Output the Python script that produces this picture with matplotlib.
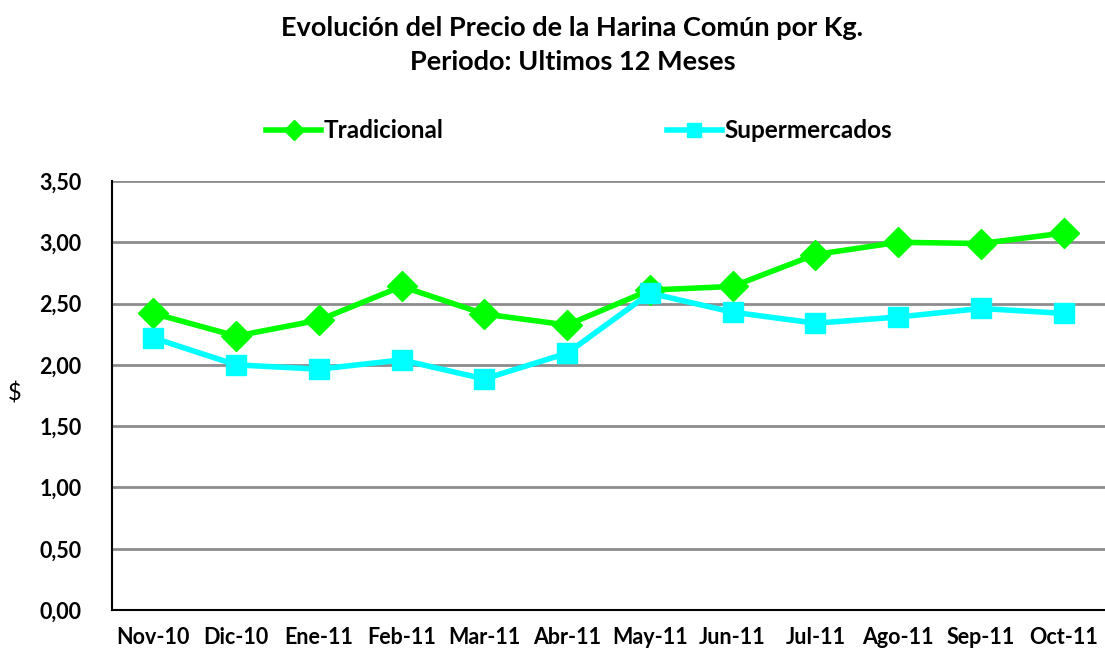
import numpy as np
import matplotlib
matplotlib.use("Agg")
import matplotlib.pyplot as plt

plt.rcParams['font.family'] = ['Lato', 'DejaVu Sans']
plt.rcParams['font.weight'] = 'bold'

months = ['Nov-10', 'Dic-10', 'Ene-11', 'Feb-11', 'Mar-11', 'Abr-11',
          'May-11', 'Jun-11', 'Jul-11', 'Ago-11', 'Sep-11', 'Oct-11']
tradicional = [2.42, 2.235, 2.365, 2.64, 2.415, 2.325, 2.61, 2.64, 2.90, 3.00, 2.99, 3.075]
supermercados = [2.22, 2.00, 1.965, 2.04, 1.885, 2.095, 2.585, 2.43, 2.34, 2.39, 2.46, 2.42]
yticks = [0.0, 0.5, 1.0, 1.5, 2.0, 2.5, 3.0, 3.5]

fig = plt.figure(figsize=(11.05, 6.55), dpi=100)
ax = fig.add_axes([112/1105, 45/655, (1105-112)/1105, (610-181)/655])

x = np.arange(len(months))
ax.plot(x, tradicional, color='#00ff00', lw=4, marker='D', ms=15,
        label='Tradicional', zorder=3)
ax.plot(x, supermercados, color='#00ffff', lw=4, marker='s', ms=15,
        label='Supermercados', zorder=3)

ax.set_xlim(-0.5, len(months) - 0.5)
ax.set_ylim(0, 3.5)
ax.set_yticks(yticks)
ax.set_yticklabels([('%.2f' % v).replace('.', ',') for v in yticks], fontsize=15.5)
ax.set_xticks(x)
ax.set_xticklabels(months, fontsize=15.5)
ax.tick_params(axis='both', length=0, pad=12)
ax.tick_params(axis='y', pad=22)
ax.yaxis.grid(True, color='#8c8c8c', lw=2)
ax.set_axisbelow(True)
for s in ['top', 'right']:
    ax.spines[s].set_visible(False)
ax.spines['left'].set_linewidth(1.5)
ax.spines['bottom'].set_linewidth(1.5)
ax.set_ylabel('$', fontsize=17, rotation=0, va='center', ha='center')
ax.yaxis.set_label_coords(-0.098, 0.505)

fig.text(0.518, 0.957, 'Evolución del Precio de la Harina Común por Kg.',
         ha='center', va='center', fontsize=19.5)
fig.text(0.518, 0.905, 'Periodo: Ultimos 12 Meses',
         ha='center', va='center', fontsize=19.5)

fig.legend(loc='center', bbox_to_anchor=(0.524, 0.80), ncol=2, frameon=False,
           fontsize=17.5, columnspacing=9.2, handlelength=2.25, handletextpad=0.1,
           markerscale=0.7)

fig.savefig('out.png', dpi=100)
